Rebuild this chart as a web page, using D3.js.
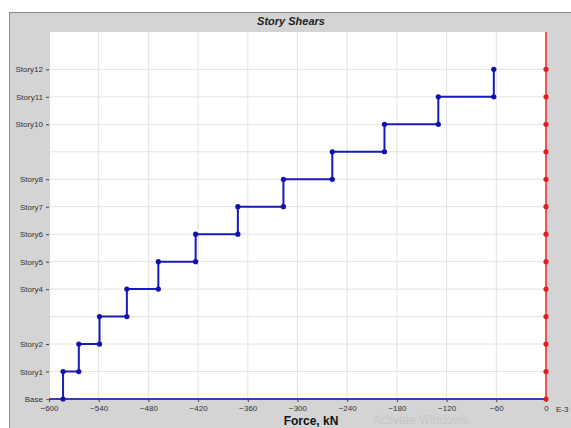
<!DOCTYPE html>
<html>
<head>
<meta charset="utf-8">
<script src="https://cdn.jsdelivr.net/npm/d3@7/dist/d3.min.js"></script>
<style>
  html, body { margin: 0; padding: 0; background: #ffffff; }
  svg { display: block; }
  text { font-family: "Liberation Sans", Arial, sans-serif; }
</style>
</head>
<body>
<svg id="chart" width="571" height="428"></svg>
<script>
// Story levels, bottom to top
const levels = ["Base", "Story1", "Story2", "Story3", "Story4", "Story5", "Story6",
                "Story7", "Story8", "Story9", "Story10", "Story11", "Story12"];
// Levels whose names are printed on the axis
const labeledLevels = ["Base", "Story1", "Story2", "Story4", "Story5", "Story6",
                       "Story7", "Story8", "Story10", "Story11", "Story12"];
// Story shear (kN) for Story1..Story12
const storyShear = [-583, -564, -539, -506, -468, -423, -372, -317, -258, -195, -130, -63];
// Second series, zero at every level
const otherShear = [0, 0, 0, 0, 0, 0, 0, 0, 0, 0, 0, 0, 0];
const xTicks = [-600, -540, -480, -420, -360, -300, -240, -180, -120, -60, 0];

const svg = d3.select("#chart");

// Panel background
svg.append("rect").attr("x", 0).attr("y", 0).attr("width", 571).attr("height", 428).attr("fill", "#ffffff");
svg.append("rect").attr("x", 9.5).attr("y", 12.5).attr("width", 570).attr("height", 420)
  .attr("fill", "#d4d4d4").attr("stroke", "#8a8a8a").attr("stroke-width", 1);

const plot = { left: 49, right: 546, top: 32, bottom: 399 };

const x = d3.scaleLinear().domain([-600, 0]).range([plot.left, plot.right]);
const y = d3.scaleLinear().domain([0, 13.36]).range([plot.bottom, plot.top]);

// Plot area
svg.append("rect").attr("x", 50).attr("y", plot.top).attr("width", plot.right - 50).attr("height", plot.bottom - plot.top)
  .attr("fill", "#ffffff");

// Grid
const grid = svg.append("g").attr("stroke", "#e3e3e3").attr("stroke-width", 1);
xTicks.slice(1, -1).forEach(t => {
  grid.append("line").attr("x1", x(t)).attr("x2", x(t)).attr("y1", plot.top).attr("y2", plot.bottom);
});
levels.forEach((l, i) => {
  if (i === 0) return;
  grid.append("line").attr("x1", 50).attr("x2", plot.right).attr("y1", y(i)).attr("y2", y(i));
});

// Y axis labels
const yAxis = d3.axisLeft(y)
  .tickValues(levels.map((l, i) => i).filter(i => labeledLevels.includes(levels[i])))
  .tickFormat(i => levels[i])
  .tickSize(3).tickPadding(3);
const gy = svg.append("g").attr("transform", `translate(${plot.left},0)`).call(yAxis);
gy.select(".domain").remove();
gy.selectAll("line").attr("stroke", "#444");
gy.selectAll("text").attr("font-size", 8).attr("fill", "#333");
gy.selectAll(".tick").filter(d => d === 0).select("line").attr("stroke", "#e04040");

// X axis
const xAxis = d3.axisBottom(x).tickValues(xTicks).tickFormat(d3.format("d")).tickSize(3).tickPadding(3);
const gx = svg.append("g").attr("transform", `translate(0,${plot.bottom})`).call(xAxis);
gx.select(".domain").remove();
gx.selectAll("line").attr("stroke", "#444");
gx.selectAll("text").attr("font-size", 8).attr("fill", "#333");

// Base line
svg.append("line").attr("x1", x(-600)).attr("x2", x(0)).attr("y1", y(0)).attr("y2", y(0))
  .attr("stroke", "#3a3ac0").attr("stroke-width", 2);

// Step profile of story shear
const pts = [];
storyShear.forEach((v, i) => {
  pts.push([v, i]);
  pts.push([v, i + 1]);
});
const line = d3.line().x(d => x(d[0])).y(d => y(d[1]));
svg.append("path").datum(pts).attr("d", line)
  .attr("fill", "none").attr("stroke", "#1a1ab8").attr("stroke-width", 2);
svg.append("g").selectAll("circle").data(pts).join("circle")
  .attr("cx", d => x(d[0])).attr("cy", d => y(d[1])).attr("r", 2.6).attr("fill", "#1010b0");

// Second series at zero
svg.append("line").attr("x1", x(0)).attr("x2", x(0)).attr("y1", plot.top).attr("y2", plot.bottom)
  .attr("stroke", "#f03030").attr("stroke-width", 1.6);
svg.append("g").selectAll("circle").data(otherShear).join("circle")
  .attr("cx", d => x(d)).attr("cy", (d, i) => y(i)).attr("r", 2.6).attr("fill", "#e02020");

// Titles
svg.append("text").attr("x", 291).attr("y", 25).attr("text-anchor", "middle")
  .attr("font-size", 11).attr("font-weight", "bold").attr("font-style", "italic").attr("fill", "#222")
  .text("Story Shears");
svg.append("text").attr("x", 311).attr("y", 425).attr("text-anchor", "middle")
  .attr("font-size", 12).attr("font-weight", "bold").attr("font-style", "normal").attr("fill", "#111")
  .text("Force, kN");
svg.append("text").attr("x", 556).attr("y", 412)
  .attr("font-size", 8).attr("fill", "#333").text("E-3");
svg.append("text").attr("x", 373).attr("y", 424)
  .attr("font-size", 12).attr("fill", "#c6c6c6").text("Activate Windows");
</script>
</body>
</html>
